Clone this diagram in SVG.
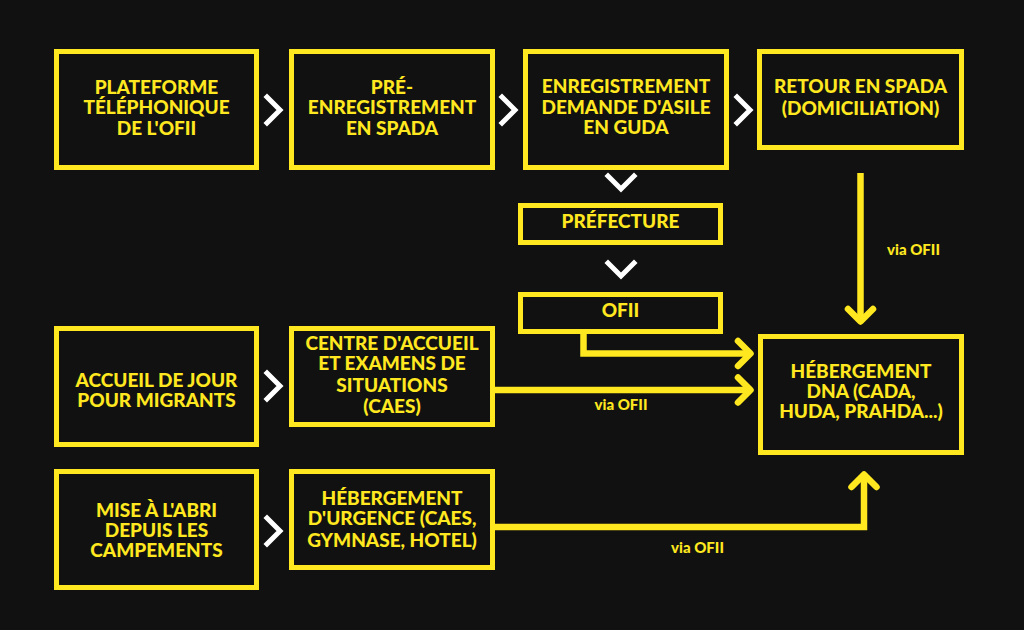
<svg xmlns="http://www.w3.org/2000/svg" width="1024" height="630" viewBox="0 0 1024 630">
<style>
.box{fill:#111111;stroke:#FFE81F;stroke-width:5}
.t{font-family:"Lato","Liberation Sans",sans-serif;font-weight:900;font-size:19px;fill:#FFE81F;text-anchor:middle}
.lbl{font-family:"Lato","Liberation Sans",sans-serif;font-weight:900;font-size:15px;fill:#FFE81F;text-anchor:middle}
.chev{fill:none;stroke:#FFFFFF;stroke-width:5;stroke-linecap:square}
.con{fill:none;stroke:#FFE81F;stroke-width:6.5}
.head{fill:none;stroke:#FFE81F;stroke-width:6.5;stroke-linecap:round;stroke-linejoin:round}
</style>
<rect width="1024" height="630" fill="#111111"/>
<g id="n1"><rect class="box" x="56.5" y="51.5" width="200" height="116"/>
<text class="t" x="156.5" y="94">PLATEFORME</text><text class="t" x="156.5" y="114">TÉLÉPHONIQUE</text><text class="t" x="156.5" y="135">DE L'OFII</text></g>
<g id="n2"><rect class="box" x="291.5" y="51.5" width="201" height="116"/>
<text class="t" x="392" y="94">PRÉ-</text><text class="t" x="392" y="114">ENREGISTREMENT</text><text class="t" x="392" y="135">EN SPADA</text></g>
<g id="n3"><rect class="box" x="525.5" y="51.5" width="201" height="116"/>
<text class="t" x="626" y="93">ENREGISTREMENT</text><text class="t" x="626" y="114">DEMANDE D'ASILE</text><text class="t" x="626" y="134">EN GUDA</text></g>
<g id="n4"><rect class="box" x="759.5" y="51.5" width="202" height="96"/>
<text class="t" x="860.5" y="93">RETOUR EN SPADA</text><text class="t" x="860.5" y="115">(DOMICILIATION)</text></g>
<g id="n5"><rect class="box" x="520.5" y="205.5" width="200" height="37"/>
<text class="t" x="620.5" y="228">PRÉFECTURE</text></g>
<g id="n6"><rect class="box" x="520.5" y="294.5" width="200" height="37"/>
<text class="t" x="620.5" y="317">OFII</text></g>
<g id="n7"><rect class="box" x="56.5" y="328.5" width="200" height="116"/>
<text class="t" x="156.5" y="387">ACCUEIL DE JOUR</text><text class="t" x="156.5" y="407">POUR MIGRANTS</text></g>
<g id="n8"><rect class="box" x="291.5" y="328.5" width="201" height="96"/>
<text class="t" x="392" y="350">CENTRE D'ACCUEIL</text><text class="t" x="392" y="370">ET EXAMENS DE</text><text class="t" x="392" y="392">SITUATIONS</text><text class="t" x="392" y="413">(CAES)</text></g>
<g id="n9"><rect class="box" x="760.5" y="336.5" width="201" height="116"/>
<text class="t" x="861" y="378">HÉBERGEMENT</text><text class="t" x="861" y="398">DNA (CADA,</text><text class="t" x="861" y="418">HUDA, PRAHDA...)</text></g>
<g id="n10"><rect class="box" x="56.5" y="471.5" width="200" height="116"/>
<text class="t" x="156.5" y="517">MISE À L'ABRI</text><text class="t" x="156.5" y="537">DEPUIS LES</text><text class="t" x="156.5" y="557">CAMPEMENTS</text></g>
<g id="n11"><rect class="box" x="291.5" y="471.5" width="201" height="96"/>
<text class="t" x="392" y="505">HÉBERGEMENT</text><text class="t" x="392" y="525">D'URGENCE (CAES,</text><text class="t" x="392" y="547">GYMNASE, HOTEL)</text></g>
<g id="connectors">
<polyline class="chev" points="267,97 280,110 267,123"/>
<polyline class="chev" points="502,97 515,110 502,123"/>
<polyline class="chev" points="737,97 750,110 737,123"/>
<polyline class="chev" points="608,176 621,189 634,176"/>
<polyline class="chev" points="608,263 621,276 634,263"/>
<polyline class="chev" points="267,373 280,386 267,399"/>
<polyline class="chev" points="267,518 280,531 267,544"/>
<line class="con" x1="860.5" y1="173" x2="860.5" y2="321"/>
<polyline class="head" points="848,309 860.5,321.5 873,309"/>
<polyline class="con" points="583.5,334 583.5,353.5 750,353.5"/>
<polyline class="head" points="738,341 750.5,353.5 738,366"/>
<line class="con" x1="494" y1="390" x2="750" y2="390"/>
<polyline class="head" points="738,377.5 750.5,390 738,402.5"/>
<polyline class="con" points="494,527 864,527 864,475"/>
<polyline class="head" points="851.5,487 864,474.5 876.5,487"/>
<text class="lbl" x="913.5" y="255">via OFII</text>
<text class="lbl" x="621" y="410">via OFII</text>
<text class="lbl" x="697.5" y="553">via OFII</text>
</g>
</svg>
